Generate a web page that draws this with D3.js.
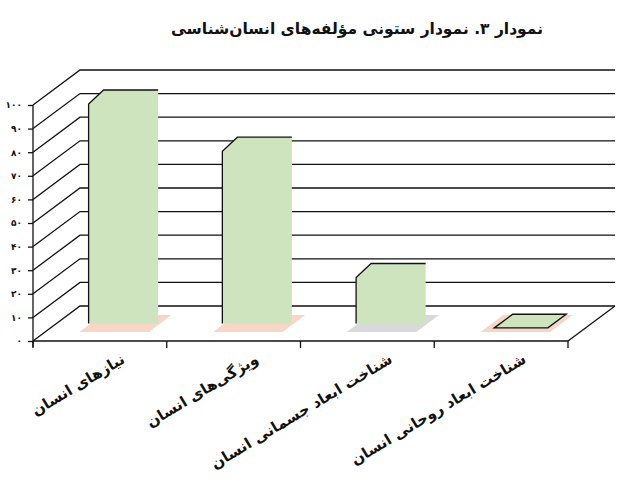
<!DOCTYPE html>
<html lang="fa">
<head>
<meta charset="UTF-8">
<title>نمودار ستونی</title>
<style>
    body { margin: 0; background: #fff; }
    svg { display: block; }
    text { font-family: "DejaVu Sans", sans-serif; }
    .grid { stroke: #111; stroke-width: 1.3; fill: none; }
</style>
</head>
<body>
<svg id="chart"></svg>
<script src="https://cdnjs.cloudflare.com/ajax/libs/d3/7.8.5/d3.min.js"></script>
<script>
    // data
    var title = "نمودار ۳. نمودار ستونی مؤلفه‌های انسان‌شناسی";
    var categories = ["نیازهای انسان", "ویژگی‌های انسان", "شناخت ابعاد جسمانی انسان", "شناخت ابعاد روحانی انسان"];
    var values = [93, 73, 19.5, 0.5];
    var floorColors = ["#f7d5c7", "#f7d5c7", "#d9d9d9", "#f7d5c7"];
    var yTicks = [0, 10, 20, 30, 40, 50, 60, 70, 80, 90, 100];

    var width = 638, height = 480;
    // 3d depth of the plot box
    var depthX = 47, depthY = -35;

    var svg = d3.select("#chart").attr("width", width).attr("height", height);

    var x = d3.scaleBand().domain(categories).range([33, 568])
        .paddingInner(0.48).paddingOuter(0.24);
    var y = d3.scaleLinear().domain([0, 100]).range([341, 105]);

    var faDigits = function(n) {
        return String(n).replace(/\d/g, function(d) { return "۰۱۲۳۴۵۶۷۸۹"[+d]; });
    };

    // point at front-plane (px, py) pushed back by fraction f of the depth
    function back(px, py, f) { return [px + depthX * f, py + depthY * f]; }

    var line = d3.line();

    // back wall gridlines and the left wall diagonals
    yTicks.forEach(function(t) {
        var p0 = [33, y(t)], p1 = back(33, y(t), 1);
        svg.append("path").attr("class", "grid")
            .attr("d", line([p0, p1, [x.range()[1] + depthX, p1[1]]]));
    });
    // floor right edge
    svg.append("path").attr("class", "grid")
        .attr("d", line([back(568, y(0), 1), [568, y(0)]]));

    // y axis
    var yAxis = d3.axisLeft(y).tickValues(yTicks).tickSize(5).tickPadding(6)
        .tickFormat(faDigits);
    var gy = svg.append("g").attr("transform", "translate(33,0)").call(yAxis);
    gy.select(".domain").attr("d", "M0," + y(100) + "V" + (y(0) + 6))
        .attr("stroke", "#111").attr("stroke-width", 1.3);
    gy.selectAll(".tick line").attr("stroke", "#111").attr("stroke-width", 1.3);
    gy.selectAll(".tick text").attr("font-size", 9).attr("font-weight", "bold")
        .attr("fill", "#111");

    // x axis front edge with ticks at category borders
    var step = x.step();
    svg.append("path").attr("class", "grid")
        .attr("d", line([[33, y(0)], [568, y(0)]]));
    d3.range(categories.length + 1).forEach(function(i) {
        var bx = 33 + step * i;
        svg.append("path").attr("class", "grid")
            .attr("d", line([[bx, y(0)], [bx, y(0) + 7]]));
    });

    // floor shadows under the bars
    var bw = x.bandwidth();
    categories.forEach(function(c, i) {
        var x0 = x(c) + 2, x1 = x(c) + bw + 2;
        var pts = [back(x0, y(0), 0.26), back(x1, y(0), 0.26),
                   back(x1, y(0), 0.74), back(x0, y(0), 0.74)];
        svg.append("path").attr("d", line(pts) + "Z")
            .attr("fill", floorColors[i]).attr("stroke", "none");
    });

    // bars: front face at half depth, with a chamfered top left corner
    categories.forEach(function(c, i) {
        var v = values[i];
        var base = y(0) + depthY * 0.5;
        var top = y(v) + depthY * 0.5;
        var x0 = x(c) + depthX * 0.5, x1 = x0 + bw;
        if (base - top > 14) {
            svg.append("path")
                .attr("d", line([[x0, base], [x0, top], [x0 + 15, top - 14], [x1, top - 14], [x1, base]]) + "Z")
                .attr("fill", "#cde4bf").attr("stroke", "none");
            svg.append("path").attr("class", "grid").attr("stroke-width", 1.6)
                .attr("d", line([[x0, base], [x0, top], [x0 + 15, top - 14], [x1, top - 14]]));
        } else {
            // almost empty bar: only its top face shows
            var a = x(c) + 12, b = x(c) + bw - 4;
            var yy = y(v);
            var pts = [back(a, yy, 0.34), back(b, yy, 0.34), back(b, yy, 0.73), back(a, yy, 0.73)];
            svg.append("path").attr("d", line(pts) + "Z")
                .attr("fill", "#cde4bf").attr("stroke", "#111").attr("stroke-width", 1.4);
        }
    });

    // category labels
    categories.forEach(function(c) {
        var cx = x(c) + bw / 2 + 26;
        svg.append("text")
            .attr("transform", "translate(" + cx + ",362) rotate(-31)")
            .attr("text-anchor", "end")
            .attr("font-size", 15).attr("font-weight", "bold")
            .attr("fill", "#111")
            .text(c);
    });

    // title
    svg.append("text").attr("x", 357).attr("y", 34)
        .attr("text-anchor", "middle").attr("direction", "rtl")
        .attr("font-size", 15.5).attr("font-weight", "bold").attr("fill", "#111")
        .text(title);
</script>
</body>
</html>
